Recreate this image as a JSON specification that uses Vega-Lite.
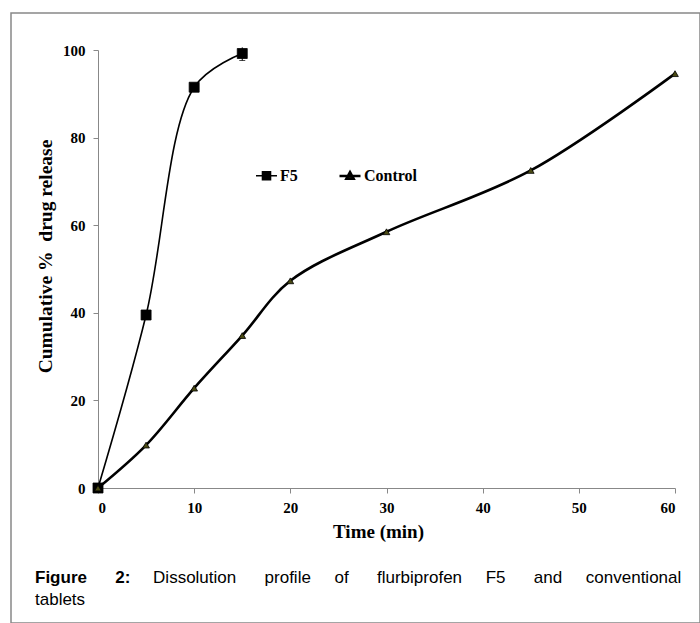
{
  "$schema": "https://vega.github.io/schema/vega-lite/v6.json",
  "autosize": {"type": "none"},
  "padding": {"left": 11, "top": 13, "right": 0, "bottom": 0},
  "width": 689,
  "height": 610,
  "background": "white",
  "title": {
    "text": "Figure\u00a0\u00a0\u00a0\u00a0\u00a0\u00a02:",
    "subtitle": [
      "\u200b\u00a0\u00a0\u00a0\u00a0\u00a0\u00a0\u00a0\u00a0\u00a0\u00a0\u00a0\u00a0\u00a0\u00a0\u00a0\u00a0\u00a0\u00a0\u00a0\u00a0\u00a0\u00a0\u00a0\u00a0\u00a0Dissolution\u00a0\u00a0\u00a0\u00a0\u00a0\u00a0profile\u00a0\u00a0\u00a0\u00a0\u00a0of\u00a0\u00a0\u00a0\u00a0\u00a0\u00a0flurbiprofen\u00a0\u00a0\u00a0\u00a0\u00a0F5\u00a0\u00a0\u00a0\u00a0\u00a0\u00a0and\u00a0\u00a0\u00a0\u00a0\u00a0conventional",
      "tablets"
    ],
    "orient": "bottom",
    "anchor": "start",
    "frame": "group",
    "offset": -53,
    "dx": 24,
    "font": "Liberation Sans",
    "fontSize": 17,
    "fontWeight": "bold",
    "color": "black",
    "subtitleFont": "Liberation Sans",
    "subtitleFontSize": 17,
    "subtitleFontWeight": "normal",
    "subtitleColor": "black",
    "subtitleLineHeight": 22,
    "subtitlePadding": -17
  },
  "datasets": {
    "release": [
      {"series": "F5", "time": 0, "release": 0},
      {"series": "F5", "time": 5, "release": 39.5},
      {"series": "F5", "time": 10, "release": 91.5},
      {"series": "F5", "time": 15, "release": 99.2},
      {"series": "Control", "time": 0, "release": 0},
      {"series": "Control", "time": 5, "release": 9.8},
      {"series": "Control", "time": 10, "release": 22.8},
      {"series": "Control", "time": 15, "release": 34.8},
      {"series": "Control", "time": 20, "release": 47.3},
      {"series": "Control", "time": 30, "release": 58.5},
      {"series": "Control", "time": 45, "release": 72.5},
      {"series": "Control", "time": 60, "release": 94.6}
    ],
    "errors": [
      {"series": "F5", "time": 15, "lo": 97.6, "hi": 100.6}
    ]
  },
  "encoding": {
    "x": {
      "field": "time",
      "type": "quantitative",
      "scale": {"domain": [0, 60], "range": [87, 664], "nice": false, "zero": false},
      "axis": {
        "values": [0, 10, 20, 30, 40, 50, 60],
        "title": "Time (min)",
        "offset": -135,
        "grid": false,
        "domainColor": "#888888",
        "tickColor": "#888888",
        "tickSize": 5,
        "labelPadding": 7,
        "labelFont": "Liberation Serif",
        "labelFontWeight": "bold",
        "labelFontSize": 15,
        "labelColor": "black",
        "titleFont": "Liberation Serif",
        "titleFontWeight": "bold",
        "titleFontSize": 19,
        "titleColor": "black",
        "titlePadding": 7,
        "titleX": 367
      }
    },
    "y": {
      "field": "release",
      "type": "quantitative",
      "scale": {"domain": [0, 100], "range": [475, 37], "nice": false, "zero": false},
      "axis": {
        "values": [0, 20, 40, 60, 80, 100],
        "title": "Cumulative %\u00a0 drug release",
        "offset": -87,
        "grid": false,
        "domainColor": "#888888",
        "tickColor": "#888888",
        "tickSize": 5,
        "labelPadding": 8,
        "labelFont": "Liberation Serif",
        "labelFontWeight": "bold",
        "labelFontSize": 15,
        "labelColor": "black",
        "titleFont": "Liberation Serif",
        "titleFontWeight": "bold",
        "titleFontSize": 19.5,
        "titleColor": "black",
        "titlePadding": 7,
        "titleY": 243
      }
    }
  },
  "layer": [
    {
      "data": {"name": "release"},
      "mark": {"type": "line", "interpolate": "catmull-rom"},
      "encoding": {
        "color": {
          "field": "series",
          "type": "nominal",
          "sort": ["F5", "Control"],
          "scale": {"domain": ["F5", "Control"], "range": ["black", "black"]},
          "legend": {
            "orient": "none",
            "legendX": 244,
            "legendY": 151,
            "direction": "horizontal",
            "title": null,
            "symbolSize": 441,
            "symbolType": "M-1,0H1M-0.38,-0.38H0.38V0.38H-0.38Z",
            "labelFont": "Liberation Serif",
            "labelFontWeight": "bold",
            "labelFontSize": 16,
            "labelColor": "black",
            "columnPadding": 36,
            "labelOffset": 2,
            "padding": 0,
            "encode": {
              "symbols": {
                "update": {
                  "shape": {"signal": "datum.value === 'F5' ? 'M-1,0H1M-0.38,-0.38H0.38V0.38H-0.38Z' : 'M-1,0H1M0,-0.36L0.34,0.26L-0.34,0.26Z'"},
                  "fill": {"signal": "datum.value === 'F5' ? 'black' : '#4a4a14'"},
                  "stroke": {"value": "black"},
                  "strokeWidth": {"value": 1.6},
                  "opacity": {"value": 1}
                }
              }
            }
          }
        },
        "strokeWidth": {
          "field": "series",
          "type": "nominal",
          "scale": {"domain": ["F5", "Control"], "range": [1.6, 2.6]},
          "legend": null
        }
      }
    },
    {
      "data": {"name": "errors"},
      "mark": {"type": "rule", "color": "black", "strokeWidth": 1},
      "encoding": {
        "y": {"field": "lo", "type": "quantitative"},
        "y2": {"field": "hi"}
      }
    },
    {
      "data": {"name": "errors"},
      "mark": {"type": "tick", "orient": "horizontal", "color": "black", "thickness": 1, "size": 6},
      "encoding": {
        "y": {"field": "lo", "type": "quantitative"}
      }
    },
    {
      "data": {"name": "release"},
      "transform": [{"filter": "datum.series === 'F5'"}],
      "mark": {"type": "point", "shape": "square", "filled": true, "opacity": 1, "fill": "black", "stroke": "black", "strokeWidth": 0.8, "size": 100}
    },
    {
      "data": {"name": "release"},
      "transform": [{"filter": "datum.series === 'Control'"}],
      "mark": {"type": "point", "shape": "triangle-up", "filled": true, "opacity": 1, "fill": "#4a4a14", "stroke": "black", "strokeWidth": 0.8, "size": 45}
    }
  ],
  "config": {
    "view": {"stroke": "#888888", "strokeWidth": 1.5, "fill": "white"}
  }
}
